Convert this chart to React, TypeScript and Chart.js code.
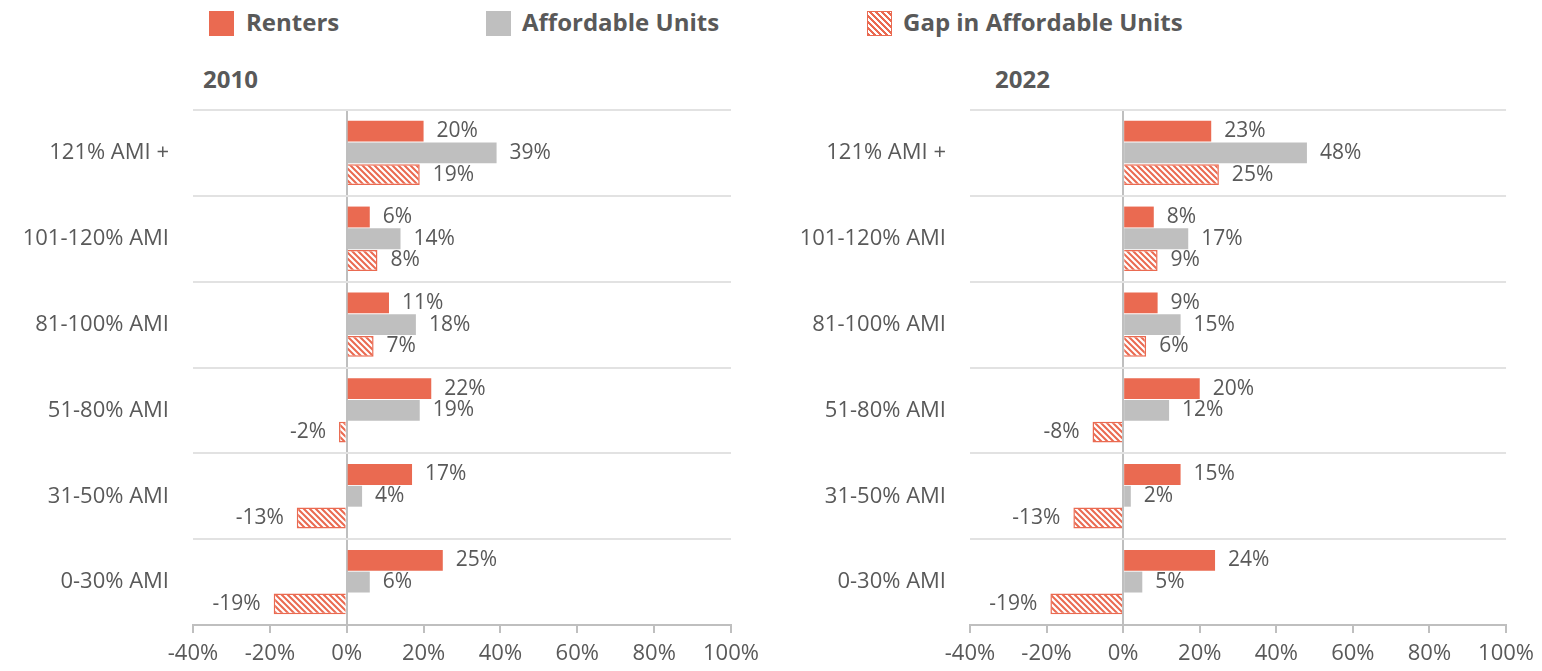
import React, { useEffect, useRef } from 'react';
import { Chart, registerables } from 'chart.js';

Chart.register(...registerables);

// ---- Data ----
const categories = ['121% AMI +', '101-120% AMI', '81-100% AMI', '51-80% AMI', '31-50% AMI', '0-30% AMI'];
const seriesNames = ['Renters', 'Affordable Units', 'Gap in Affordable Units'];
const renters2010 = [20, 6, 11, 22, 17, 25];
const affordable2010 = [39, 14, 18, 19, 4, 6];
const gap2010 = [19, 8, 7, -2, -13, -19];
const renters2022 = [23, 8, 9, 20, 15, 24];
const affordable2022 = [48, 17, 15, 12, 2, 5];
const gap2022 = [25, 9, 6, -8, -13, -19];
const xMin = -40;
const xMax = 100;
const xStep = 20;

const RED = '#EA6A51';
const GRAY = '#BFBFBF';
const TEXT = '#595959';
const FONT = "'Open Sans', sans-serif";

function makeHatch(color: string): CanvasPattern | string {
  const c = document.createElement('canvas');
  c.width = 6;
  c.height = 6;
  const g = c.getContext('2d');
  if (!g) return color;
  g.fillStyle = color;
  g.fillRect(0, 0, 6, 6);
  g.strokeStyle = '#ffffff';
  g.lineWidth = 2.2;
  g.beginPath();
  for (const k of [-6, 0, 6]) {
    g.moveTo(k - 1, -1);
    g.lineTo(k + 7, 7);
  }
  g.stroke();
  const p = g.createPattern(c, 'repeat');
  return p || color;
}

const valueLabels = {
  id: 'valueLabels',
  afterDatasetsDraw(chart: any) {
    const ctx = chart.ctx;
    ctx.save();
    ctx.font = `21px ${FONT}`;
    ctx.fillStyle = TEXT;
    ctx.textBaseline = 'middle';
    chart.data.datasets.forEach((ds: any, i: number) => {
      const meta = chart.getDatasetMeta(i);
      meta.data.forEach((el: any, j: number) => {
        const v = ds.data[j] as number;
        const neg = v < 0;
        ctx.textAlign = neg ? 'right' : 'left';
        ctx.fillText(`${v}%`, el.x + (neg ? -13 : 13), el.y);
      });
    });
    ctx.restore();
  },
};

type PanelProps = {
  left: number;
  width: number;
  yWidth: number;
  padRight: number;
  renters: number[];
  affordable: number[];
  gap: number[];
};

function Panel({ left, width, yWidth, padRight, renters, affordable, gap }: PanelProps) {
  const ref = useRef<HTMLCanvasElement | null>(null);
  useEffect(() => {
    if (!ref.current) return;
    const hatch = makeHatch(RED);
    const chart = new Chart(ref.current, {
      type: 'bar',
      data: {
        labels: categories,
        datasets: [
          { label: seriesNames[0], data: renters, backgroundColor: RED, borderWidth: 0 },
          { label: seriesNames[1], data: affordable, backgroundColor: GRAY, borderWidth: 0 },
          { label: seriesNames[2], data: gap, backgroundColor: hatch as any, borderColor: RED, borderWidth: 1.5 },
        ],
      },
      options: {
        indexAxis: 'y',
        animation: false,
        responsive: false,
        maintainAspectRatio: false,
        datasets: { bar: { categoryPercentage: 0.76, barPercentage: 0.96 } } as any,
        layout: { padding: { top: 10, right: padRight, left: 0, bottom: 0 } },
        plugins: {
          legend: { display: false },
          tooltip: { enabled: false },
          title: { display: false },
        },
        scales: {
          x: {
            type: 'linear',
            min: xMin,
            max: xMax,
            ticks: {
              stepSize: xStep,
              callback: (v: any) => `${v}%`,
              font: { family: FONT, size: 22 },
              color: TEXT,
              padding: 8,
              maxRotation: 0,
            },
            grid: {
              color: (c: any) => (c.tick && c.tick.value === 0 ? GRAY : 'rgba(0,0,0,0)'),
              lineWidth: 2,
              drawTicks: true,
              tickLength: 8,
              tickColor: GRAY,
              tickWidth: 2,
            },
            border: { display: true, color: GRAY, width: 2 },
            afterFit: (s: any) => {
              s.height = 46;
            },
          },
          y: {
            type: 'category',
            ticks: {
              font: { family: FONT, size: 22 },
              color: TEXT,
              padding: 24,
            },
            grid: {
              color: '#E2E2E2',
              lineWidth: 2,
              drawTicks: false,
              offset: true,
            },
            border: { display: false },
            afterFit: (s: any) => {
              s.width = yWidth;
              s.paddingTop = 0;
              s.paddingBottom = 0;
            },
          },
        },
      },
      plugins: [valueLabels],
    });
    return () => chart.destroy();
  }, []);
  return (
    <canvas
      ref={ref}
      width={width}
      height={571}
      style={{ position: 'absolute', left, top: 100, width, height: 571 }}
    />
  );
}

const legendText: React.CSSProperties = {
  position: 'absolute',
  top: 10,
  fontFamily: FONT,
  fontWeight: 700,
  fontSize: 24,
  lineHeight: '24px',
  color: TEXT,
  whiteSpace: 'nowrap',
};

const swatch: React.CSSProperties = {
  position: 'absolute',
  top: 11,
  width: 25,
  height: 25,
  boxSizing: 'border-box',
};

const titleStyle: React.CSSProperties = {
  position: 'absolute',
  top: 67,
  fontFamily: FONT,
  fontWeight: 700,
  fontSize: 24,
  lineHeight: '24px',
  color: TEXT,
};

export default function App() {
  return (
    <div style={{ position: 'absolute', left: 0, top: 0, width: 1542, height: 671, background: '#fff', overflow: 'hidden' }}>
      <div style={{ ...swatch, left: 209, background: RED }} />
      <div style={{ ...legendText, left: 246 }}>{seriesNames[0]}</div>
      <div style={{ ...swatch, left: 486, background: GRAY }} />
      <div style={{ ...legendText, left: 522 }}>{seriesNames[1]}</div>
      <div
        style={{
          ...swatch,
          left: 867,
          border: `1.5px solid ${RED}`,
          background: `repeating-linear-gradient(45deg, ${RED} 0px, ${RED} 2.1px, #fff 2.1px, #fff 4.2px)`,
        }}
      />
      <div style={{ ...legendText, left: 903 }}>{seriesNames[2]}</div>

      <div style={{ ...titleStyle, left: 203 }}>2010</div>
      <div style={{ ...titleStyle, left: 995 }}>2022</div>

      <Panel left={0} width={775} yWidth={193} padRight={44} renters={renters2010} affordable={affordable2010} gap={gap2010} />
      <Panel left={775} width={767} yWidth={195} padRight={35} renters={renters2022} affordable={affordable2022} gap={gap2022} />
    </div>
  );
}
